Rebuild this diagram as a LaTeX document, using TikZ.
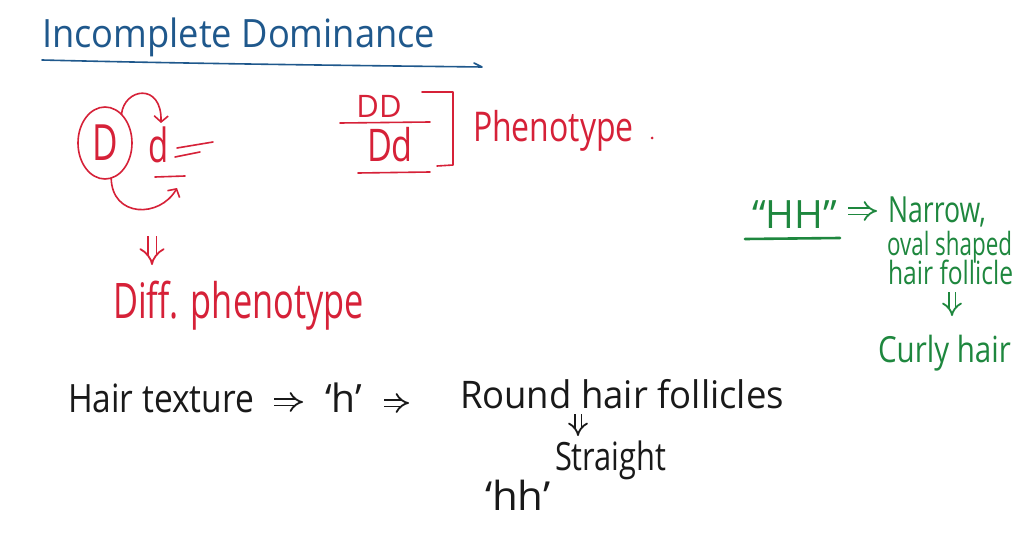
\documentclass[tikz,border=0pt]{standalone}
\usepackage{graphicx}
\usepackage{fontspec}
\setmainfont{Open Sans}
\usetikzlibrary{shapes.geometric,arrows.meta}
\definecolor{inkblue}{RGB}{31,88,140}
\definecolor{inkred}{RGB}{214,33,56}
\definecolor{inkgreen}{RGB}{30,135,62}
\definecolor{inkblack}{RGB}{25,25,25}
\newcommand\fs[1]{\fontsize{#1}{#1}\selectfont}
\newcommand\sq[2]{\scalebox{#1}[1]{#2}}
\tikzset{
  every node/.style={inner sep=0pt, outer sep=0pt},
  pen/.style={line width=1.6pt, line cap=round, line join=round},
  bluepen/.style={pen, draw=inkblue},
  redpen/.style={pen, draw=inkred},
  greenpen/.style={pen, draw=inkgreen},
  blackpen/.style={pen, draw=inkblack},
  bluetxt/.style={text=inkblue},
  redtxt/.style={text=inkred},
  greentxt/.style={text=inkgreen},
  blacktxt/.style={text=inkblack},
  txt/.style={anchor=base west},
  barb/.style={-{Straight Barb[length=6pt,width=14pt]}},
  implies/.style={line width=1.8pt, double=white, double distance=5pt, -{Implies[length=8pt]}},
}
\begin{document}
\begin{tikzpicture}[x=1pt,y=-1pt]
\useasboundingbox[fill=white] (0,0) rectangle (1024,540);

% ---- title ----
\node[bluetxt, txt] (title) at (42,48) {\fs{39}\sq{0.93}{Incomplete Dominance}};
\coordinate (ul1) at (42,60);
\coordinate (ul2) at (482,67);
\draw[bluepen] (ul1) .. controls (200,64) and (400,66) .. (ul2) -- (474,63);

% ---- red: D / d ----
\node[redpen, redtxt, ellipse, minimum width=54pt, minimum height=72pt] (Dc) at (105,143) {\fs{50}\sq{0.7}{D}};
\node[redtxt, txt] (d) at (148,163) {\fs{47}\sq{0.7}{d}};
\coordinate (dtop) at (161,123);
\coordinate (bk1) at (155,177);
\coordinate (bk2) at (185,176);
\coordinate (blank) at (177,188);
\coordinate (eq1a) at (177,148);
\coordinate (eq1b) at (213,142);
\coordinate (eq2a) at (175,157);
\coordinate (eq2b) at (200,152);
\draw[redpen] (eq1a) -- (eq1b);
\draw[redpen] (eq2a) -- (eq2b);
\draw[redpen] (bk1) -- (bk2);
\draw[redpen, barb] (Dc.60) .. controls (124,88) and (162,82) .. (dtop);
\draw[redpen, barb] (Dc.-80) .. controls (112,218) and (160,218) .. (blank);
\node[redtxt, txt] (diff) at (113,318) {\fs{49}\sq{0.70}{Diff. phenotype}};
\coordinate (rd1) at (152,236);
\coordinate (rd2) at (152,265);
\draw[implies, double distance=7pt, -{Implies[length=10pt]}, draw=inkred] (rd1) -- (rd2);

% ---- red: DD / Dd ----
\node[redtxt, anchor=base] (DD) at (379,118) {\fs{31}DD};
\node[redtxt, anchor=base] (Ddn) at (390,162) {\fs{45}\sq{0.76}{Dd}};
\coordinate (fr1) at (340,123);
\coordinate (fr2) at (430,122);
\coordinate (un1) at (358,173);
\coordinate (un2) at (430,172);
\draw[redpen] (fr1) -- (fr2);
\draw[redpen] (un1) -- (un2);
\coordinate (br1) at (422,92);
\coordinate (br2) at (453,92);
\coordinate (br3) at (453,165);
\coordinate (br4) at (437,166);
\draw[redpen] (br1) -- (br2) -- (br3) -- (br4);
\node[redtxt, txt] (pheno) at (473,142) {\fs{41}\sq{0.78}{Phenotype}};
\fill[inkred] (652,138) circle (1.5pt);

% ---- green ----
\node[greentxt, txt] (HH) at (752,228) {\fs{39}\textquotedblleft HH\textquotedblright};
\coordinate (hu1) at (745,239);
\coordinate (hu2) at (840,238);
\draw[greenpen, line width=2.6pt] (hu1) -- (hu2);
\node[greentxt, txt] (narrow) at (888,222) {\fs{36}\sq{0.74}{Narrow,}};
\coordinate (g1) at (848,211);
\coordinate (g2) at (877,211);
\draw[implies, draw=inkgreen] (g1) -- (g2);
\node[greentxt, txt] (oval) at (887,255) {\fs{32}\sq{0.70}{oval shaped}};
\node[greentxt, txt] (foll) at (888,284) {\fs{32}\sq{0.77}{hair follicle}};
\coordinate (gd1) at (952,292);
\coordinate (gd2) at (952,316);
\draw[implies, draw=inkgreen] (gd1) -- (gd2);
\node[greentxt, txt] (curly) at (878,362) {\fs{36}\sq{0.82}{Curly hair}};

% ---- black ----
\node[blacktxt, txt] (hair) at (68,412) {\fs{39}\sq{0.86}{Hair texture}};
\node[blacktxt, txt] (h) at (325,412) {\fs{39}\textquoteleft h\textquoteright};
\node[blacktxt, txt] (round) at (460,408) {\fs{38}\sq{0.96}{Round hair follicles}};
\coordinate (k1) at (274,402);
\coordinate (k2) at (303,402);
\coordinate (k3) at (384,403);
\coordinate (k4) at (409,403);
\draw[implies, draw=inkblack] (k1) -- (k2);
\draw[implies, draw=inkblack] (k3) -- (k4);
\coordinate (kd1) at (578,414);
\coordinate (kd2) at (578,436);
\draw[implies, draw=inkblack] (kd1) -- (kd2);
\node[blacktxt, txt] (straight) at (555,470) {\fs{39}\sq{0.79}{Straight}};
\node[blacktxt, txt] (hh) at (485,510) {\fs{40}\sq{1.05}{\textquoteleft hh\textquoteright}};
\end{tikzpicture}
\end{document}
